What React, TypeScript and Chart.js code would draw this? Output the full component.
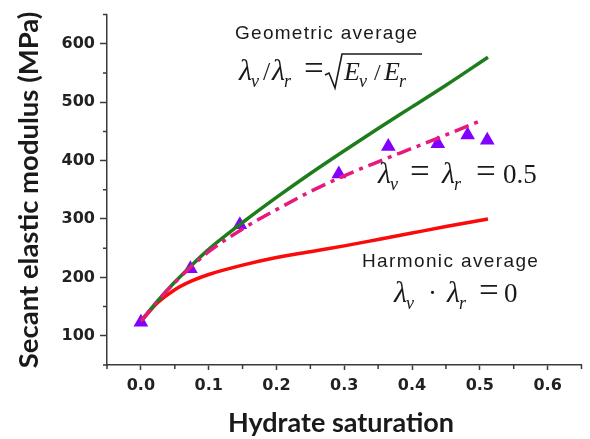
import React, { useEffect, useRef } from 'react';
import { Chart, registerables } from 'chart.js';

Chart.register(...registerables);

// ---- Data ----
const xMajorTicks = [0, 0.1, 0.2, 0.3, 0.4, 0.5, 0.6];
const yMajorTicks = [100, 200, 300, 400, 500, 600];
const xMinorTicks = [-0.05, 0.05, 0.15, 0.25, 0.35, 0.45, 0.55, 0.65];
const yMinorTicks = [50, 150, 250, 350, 450, 550, 650];

// Geometric average (green)
const geoSat = [0, 0.025, 0.05, 0.075, 0.1, 0.15, 0.2, 0.25, 0.3, 0.35, 0.4, 0.45, 0.512];
const geoMod = [125, 160, 192, 221, 248, 294, 337, 378, 417, 455, 492, 529, 577];

// Harmonic average (red)
const harSat = [0, 0.025, 0.05, 0.075, 0.1, 0.15, 0.2, 0.25, 0.3, 0.35, 0.4, 0.45, 0.512];
const harMod = [125, 157, 179, 194, 205, 221, 234, 244, 254, 265, 276, 287, 300];

// lambda_v = lambda_r = 0.5 (magenta dash-dot)
const midSat = [0, 0.025, 0.05, 0.075, 0.1, 0.15, 0.2, 0.25, 0.3, 0.35, 0.4, 0.45, 0.505];
const midMod = [125, 160, 191, 219, 244, 283, 316, 347, 374, 398, 421, 444, 470];

// Measured points (purple triangles)
const obsSat = [0, 0.073, 0.146, 0.292, 0.365, 0.438, 0.482, 0.511];
const obsMod = [123, 215, 290, 377, 424, 429, 444, 435];

const toXY = (xs: number[], ys: number[]) => xs.map((x, i) => ({ x, y: ys[i] }));

const AXIS_COLOR = '#3a3a3a';
const TEXT_COLOR = '#1a1a1a';

const decorPlugin = {
  id: 'decor',
  afterDraw(chart: any) {
    const { ctx, scales } = chart;
    const xs = scales.x;
    const ys = scales.y;
    const area = chart.chartArea;
    ctx.save();
    // minor ticks
    ctx.strokeStyle = AXIS_COLOR;
    ctx.lineWidth = 1.5;
    ctx.beginPath();
    xMinorTicks.forEach((v) => {
      const px = xs.getPixelForValue(v);
      ctx.moveTo(px, area.bottom);
      ctx.lineTo(px, area.bottom + 4);
    });
    yMinorTicks.forEach((v) => {
      const py = ys.getPixelForValue(v);
      ctx.moveTo(area.left, py);
      ctx.lineTo(area.left - 4, py);
    });
    ctx.stroke();

    // axis titles
    ctx.fillStyle = TEXT_COLOR;
    ctx.textAlign = 'center';
    ctx.textBaseline = 'middle';
    ctx.font = 'bold 27px Lato';
    ctx.fillText('Hydrate saturation', 341, 423);
    ctx.save();
    ctx.translate(29, 190);
    ctx.rotate(-Math.PI / 2);
    ctx.font = 'bold 27.5px Lato';
    ctx.fillText('Secant elastic modulus (MPa)', 0, 0);
    ctx.restore();

    // plain annotations
    ctx.textAlign = 'left';
    ctx.textBaseline = 'alphabetic';
    ctx.font = '19px "Liberation Sans"';
    const fitText = (t: string, x: number, y: number, w: number) => {
      ctx.letterSpacing = '0px';
      const m = ctx.measureText(t).width;
      const ls = (w - m) / (t.length - 1);
      ctx.letterSpacing = ls.toFixed(2) + 'px';
      ctx.fillText(t, x, y);
      ctx.letterSpacing = '0px';
    };
    fitText('Geometric average', 235, 39, 182);
    fitText('Harmonic average', 362, 267, 176);

    const lam = 'italic 30px "Liberation Serif"';
    const ee = 'italic 26px "Liberation Serif"';
    const sub = 'italic 18px "Liberation Serif"';
    const eq = '35px "Liberation Serif"';
    const num = '27px "Liberation Serif"';
    // place glyph so that its visible left edge is at `left`; returns visible right edge
    const put = (t: string, font: string, left: number, y: number) => {
      ctx.font = font;
      const m = ctx.measureText(t);
      ctx.fillText(t, left + m.actualBoundingBoxLeft, y);
      return left + m.actualBoundingBoxLeft + m.actualBoundingBoxRight;
    };
    const withSub = (base: string, bf: string, s: string, left: number, y: number) => {
      const r = put(base, bf, left, y);
      return put(s, sub, r - 1, y + 7);
    };

    // formula 1: λv/λr = sqrt(Ev / Er)
    let b = 80;
    withSub('λ', lam, 'v', 238, b);
    put('/', '26px "Liberation Serif"', 263, b);
    withSub('λ', lam, 'r', 271, b);
    put('=', eq, 305, b);
    ctx.strokeStyle = TEXT_COLOR;
    ctx.lineWidth = 1.6;
    ctx.beginPath();
    ctx.moveTo(325, 75);
    ctx.lineTo(329, 73);
    ctx.lineTo(335, 88);
    ctx.lineTo(342, 54);
    ctx.lineTo(422, 54);
    ctx.stroke();
    withSub('E', ee, 'v', 343, b);
    put('/', '24px "Liberation Serif"', 374, b);
    withSub('E', ee, 'r', 383, b);

    // formula 2: λv = λr = 0.5
    b = 183;
    withSub('λ', lam, 'v', 377, b);
    put('=', eq, 411, b);
    withSub('λ', lam, 'r', 441, b);
    put('=', eq, 477, b);
    put('0.5', num, 504, b);

    // formula 3: λv · λr = 0
    b = 302;
    withSub('λ', lam, 'v', 393, b);
    put('·', num, 430, b);
    withSub('λ', lam, 'r', 446, b);
    put('=', eq, 480, b);
    put('0', num, 505, b);

    ctx.restore();
  },
};

export default function App() {
  const ref = useRef<HTMLCanvasElement | null>(null);

  useEffect(() => {
    document.body.style.margin = '0';
    const canvas = ref.current;
    if (!canvas) return;
    const chart = new Chart(canvas, {
      type: 'scatter',
      data: {
        datasets: [
          {
            label: 'Geometric average',
            data: toXY(geoSat, geoMod),
            showLine: true,
            borderColor: '#1d7d1d',
            borderWidth: 3.5,
            pointRadius: 0,
            cubicInterpolationMode: 'monotone',
            order: 2,
          },
          {
            label: 'Harmonic average',
            data: toXY(harSat, harMod),
            showLine: true,
            borderColor: '#fa0a0a',
            borderWidth: 3.5,
            pointRadius: 0,
            cubicInterpolationMode: 'monotone',
            order: 3,
          },
          {
            label: 'λv = λr = 0.5',
            data: toXY(midSat, midMod),
            showLine: true,
            borderColor: '#e8197d',
            borderWidth: 3.5,
            borderDash: [15, 6, 4, 6],
            pointRadius: 0,
            cubicInterpolationMode: 'monotone',
            order: 1,
          },
          {
            label: 'Measured',
            data: toXY(obsSat, obsMod),
            showLine: false,
            pointStyle: 'triangle',
            pointRadius: 8.5,
            backgroundColor: '#8200ff',
            borderColor: '#8200ff',
            borderWidth: 0,
            order: 10,
          },
        ],
      },
      options: {
        animation: false,
        responsive: false,
        devicePixelRatio: 1,
        layout: { padding: { top: 7, right: 3, left: 0, bottom: 0 } },
        plugins: {
          legend: { display: false },
          tooltip: { enabled: false },
        },
        scales: {
          x: {
            type: 'linear',
            min: -0.05,
            max: 0.65,
            afterBuildTicks: (scale: any) => {
              scale.ticks = xMajorTicks.map((v) => ({ value: v }));
            },
            afterFit: (scale: any) => {
              scale.height = 74;
            },
            border: { display: true, color: AXIS_COLOR, width: 1.5 },
            grid: {
              display: true,
              drawOnChartArea: false,
              drawTicks: true,
              tickLength: 5,
              tickWidth: 1.5,
              tickColor: AXIS_COLOR,
            },
            ticks: {
              padding: 6,
              color: '#222',
              font: { family: '"DejaVu Sans"', size: 16, weight: 'bold' },
              maxRotation: 0,
              callback: (v: any) => Number(v).toFixed(1),
            },
          },
          y: {
            type: 'linear',
            min: 50,
            max: 650,
            afterBuildTicks: (scale: any) => {
              scale.ticks = yMajorTicks.map((v) => ({ value: v }));
            },
            afterFit: (scale: any) => {
              scale.width = 107;
            },
            border: { display: true, color: AXIS_COLOR, width: 1.5 },
            grid: {
              display: true,
              drawOnChartArea: false,
              drawTicks: true,
              tickLength: 7,
              tickWidth: 1.5,
              tickColor: AXIS_COLOR,
            },
            ticks: {
              padding: 5,
              color: '#222',
              font: { family: '"DejaVu Sans"', size: 16, weight: 'bold' },
              callback: (v: any) => String(v),
            },
          },
        },
      },
      plugins: [decorPlugin],
    } as any);
    return () => chart.destroy();
  }, []);

  return (
    <div style={{ width: 590, height: 439 }}>
      <canvas ref={ref} width={590} height={439} style={{ display: 'block' }} />
    </div>
  );
}
